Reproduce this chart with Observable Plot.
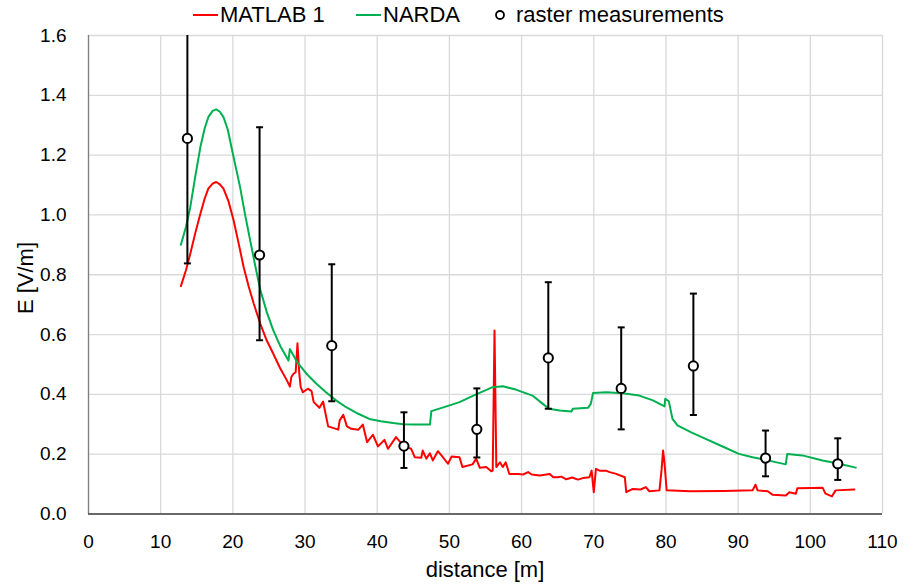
<!DOCTYPE html>
<html>
<head>
<meta charset="utf-8">
<script src="https://cdn.jsdelivr.net/npm/d3@7"></script>
<script src="https://cdn.jsdelivr.net/npm/@observablehq/plot@0.6"></script>
<style>
  html, body { margin: 0; padding: 0; background: #fff; }
  #wrap { width: 906px; font-family: "Liberation Sans", Arial, sans-serif; color: #000; }
  #legend { position: relative; width: 906px; height: 18px; font-size: 22px; overflow: visible; z-index: 1; }
  #legend .t { position: absolute; top: 2px; line-height: 26px; white-space: nowrap; }
  #legend .l { position: absolute; top: 14px; width: 25px; height: 2px; }
  #legend svg { position: absolute; left: 494px; top: 9px; }
</style>
</head>
<body>
<div id="wrap">
  <div id="legend">
    <span class="l" style="left:193px;background:#ff0000"></span>
    <span class="t" style="left:220px">MATLAB 1</span>
    <span class="l" style="left:356px;background:#00b050"></span>
    <span class="t" style="left:383px">NARDA</span>
    <svg width="12" height="12"><circle cx="6" cy="6" r="4" fill="white" stroke="black" stroke-width="1.8"></circle></svg>
    <span class="t" style="left:516px">raster measurements</span>
  </div>
  <div id="chart"></div>
</div>
<script>
// ---- data ----
const xTicks = [0, 10, 20, 30, 40, 50, 60, 70, 80, 90, 100, 110];
const yTicks = [0, 0.2, 0.4, 0.6, 0.8, 1.0, 1.2, 1.4, 1.6];

const matlabX = [12.8, 13.5, 14.1, 14.8, 15.5, 16.1, 16.6, 17.2, 17.7, 18.2, 18.7, 19.4, 20.1, 20.8, 21.5, 22.2, 22.9, 23.8, 24.7, 25.6, 26.5, 27.5, 27.9, 28.1, 28.4, 28.7, 28.95, 29.2, 29.4, 29.7, 30.4, 30.9, 31.2, 32.0, 32.5, 33.2, 34.6, 34.8, 35.3, 35.8, 36.4, 37.4, 38.0, 38.6, 39.4, 40.1, 41.0, 41.5, 42.6, 43.7, 44.7, 45.2, 46.1, 46.3, 46.8, 47.3, 47.7, 48.4, 48.9, 49.8, 50.3, 51.4, 51.8, 53.2, 53.7, 54.2, 55.1, 55.8, 56.0, 56.25, 56.5, 57.0, 57.4, 57.8, 58.3, 59.5, 60.2, 60.9, 61.4, 62.5, 63.9, 64.4, 65.0, 65.5, 66.2, 67.0, 67.8, 68.5, 69.4, 69.7, 70.0, 70.3, 70.8, 71.7, 72.2, 73.0, 74.3, 74.5, 75.4, 76.5, 77.2, 77.7, 79.1, 79.4, 79.6, 79.8, 80.1, 83.3, 88.0, 92.0, 92.4, 92.7, 94.1, 94.8, 96.6, 97.1, 98.0, 98.2, 100.0, 101.7, 102.1, 103.0, 103.5, 106.1];
const matlabY = [0.762, 0.815, 0.870, 0.940, 1.004, 1.055, 1.088, 1.105, 1.110, 1.102, 1.088, 1.045, 0.982, 0.905, 0.825, 0.760, 0.703, 0.636, 0.580, 0.536, 0.490, 0.446, 0.426, 0.458, 0.469, 0.474, 0.571, 0.470, 0.424, 0.407, 0.419, 0.411, 0.374, 0.355, 0.376, 0.293, 0.282, 0.313, 0.332, 0.293, 0.285, 0.282, 0.299, 0.240, 0.265, 0.226, 0.248, 0.218, 0.257, 0.226, 0.218, 0.190, 0.188, 0.212, 0.185, 0.203, 0.179, 0.210, 0.196, 0.168, 0.192, 0.190, 0.157, 0.166, 0.185, 0.155, 0.157, 0.143, 0.145, 0.614, 0.157, 0.173, 0.157, 0.173, 0.134, 0.134, 0.132, 0.140, 0.132, 0.129, 0.134, 0.123, 0.123, 0.125, 0.116, 0.122, 0.115, 0.120, 0.123, 0.145, 0.073, 0.151, 0.145, 0.145, 0.140, 0.135, 0.123, 0.073, 0.084, 0.082, 0.090, 0.076, 0.079, 0.150, 0.212, 0.170, 0.079, 0.076, 0.077, 0.079, 0.098, 0.079, 0.076, 0.064, 0.062, 0.073, 0.068, 0.086, 0.087, 0.088, 0.068, 0.059, 0.079, 0.082];

const nardaX = [12.8, 13.5, 14.1, 14.8, 15.5, 16.1, 16.6, 17.2, 17.7, 18.2, 18.7, 19.3, 19.8, 20.4, 21.0, 21.7, 22.4, 23.1, 23.8, 24.7, 25.6, 26.6, 27.7, 27.9, 28.9, 30.2, 31.5, 32.9, 34.3, 35.7, 37.3, 38.9, 40.5, 42.2, 43.6, 45.0, 47.3, 47.5, 49.6, 51.4, 53.7, 56.0, 57.4, 59.2, 61.5, 62.9, 63.8, 65.3, 66.9, 67.1, 69.2, 69.6, 69.9, 71.7, 74.0, 76.3, 78.2, 79.8, 79.9, 80.4, 80.9, 81.6, 83.5, 85.5, 88.0, 90.1, 92.0, 93.8, 96.6, 96.8, 98.9, 101.7, 104.0, 106.3];
const nardaY = [0.900, 0.960, 1.026, 1.130, 1.227, 1.290, 1.327, 1.348, 1.353, 1.345, 1.327, 1.285, 1.227, 1.160, 1.093, 1.000, 0.915, 0.830, 0.750, 0.675, 0.614, 0.560, 0.513, 0.552, 0.508, 0.469, 0.437, 0.407, 0.380, 0.357, 0.336, 0.318, 0.310, 0.304, 0.300, 0.299, 0.299, 0.344, 0.360, 0.374, 0.400, 0.424, 0.427, 0.416, 0.396, 0.369, 0.352, 0.346, 0.343, 0.352, 0.355, 0.369, 0.405, 0.407, 0.404, 0.396, 0.380, 0.360, 0.385, 0.377, 0.318, 0.296, 0.273, 0.251, 0.224, 0.201, 0.190, 0.181, 0.166, 0.201, 0.196, 0.179, 0.168, 0.155];

const measX  = [13.7, 23.7, 33.7, 43.7, 53.8, 63.7, 73.8, 83.8, 93.8, 103.8];
const measY  = [1.256, 0.866, 0.563, 0.227, 0.283, 0.522, 0.420, 0.495, 0.187, 0.168];
const measLo = [0.838, 0.581, 0.377, 0.154, 0.189, 0.352, 0.283, 0.331, 0.126, 0.114];
const measHi = [1.680, 1.293, 0.835, 0.340, 0.420, 0.775, 0.624, 0.737, 0.279, 0.253];

// ---- tables ----
const matlab = matlabX.map((x, i) => ({x, y: matlabY[i]}));
const narda = nardaX.map((x, i) => ({x, y: nardaY[i]}));
const meas = measX.map((x, i) => ({x, y: measY[i], lo: measLo[i], hi: measHi[i]}));
const caps = meas.flatMap(d => [{x: d.x, y: d.lo}, {x: d.x, y: d.hi}]);
const capSymbol = { draw(ctx) { ctx.moveTo(-3.5, 0); ctx.lineTo(3.5, 0); } };

const svg = Plot.plot({
  width: 906,
  height: 568,
  marginTop: 17,
  marginBottom: 72.5,
  marginLeft: 88,
  marginRight: 24,
  style: { fontFamily: '"Liberation Sans", Arial, sans-serif', fontSize: "19px", color: "#000", background: "transparent" },
  x: { domain: [0, 110] },
  y: { domain: [0, 1.6] },
  marks: [
    Plot.gridX(xTicks, { stroke: "#d9d9d9", strokeOpacity: 1, strokeWidth: 1.3 }),
    Plot.gridY(yTicks, { stroke: "#d9d9d9", strokeOpacity: 1, strokeWidth: 1.3 }),
    Plot.axisX(xTicks, { tickSize: 0, tickPadding: 20, tickFormat: d => String(d), label: null }),
    Plot.axisY(yTicks, { tickSize: 0, tickPadding: 22, tickFormat: d3.format(".1f"), label: null }),
    Plot.ruleX([0], { stroke: "#808080", strokeWidth: 1.3 }),
    Plot.ruleY([0], { stroke: "#404040", strokeWidth: 1.5 }),
    Plot.line(matlab, { x: "x", y: "y", stroke: "#ff0000", strokeWidth: 2 }),
    Plot.line(narda, { x: "x", y: "y", stroke: "#00b050", strokeWidth: 2 }),
    Plot.ruleX(meas, { x: "x", y1: "lo", y2: "hi", stroke: "#000", strokeWidth: 2, clip: true }),
    Plot.dot(caps, { x: "x", y: "y", symbol: capSymbol, r: 4, stroke: "#000", strokeWidth: 2, fill: "none", clip: true }),
    Plot.dot(meas, { x: "x", y: "y", r: 4.6, stroke: "#000", strokeWidth: 2, fill: "#fff" })
  ]
});

const s = d3.select(svg);
s.append("text")
  .attr("x", 485).attr("y", 559)
  .attr("text-anchor", "middle")
  .attr("font-size", 22).attr("fill", "#000")
  .text("distance [m]");
s.append("text")
  .attr("transform", "translate(33,260) rotate(-90)")
  .attr("text-anchor", "middle")
  .attr("font-size", 22).attr("fill", "#000")
  .text("E [V/m]");

document.getElementById("chart").appendChild(svg);
</script>
</body>
</html>
